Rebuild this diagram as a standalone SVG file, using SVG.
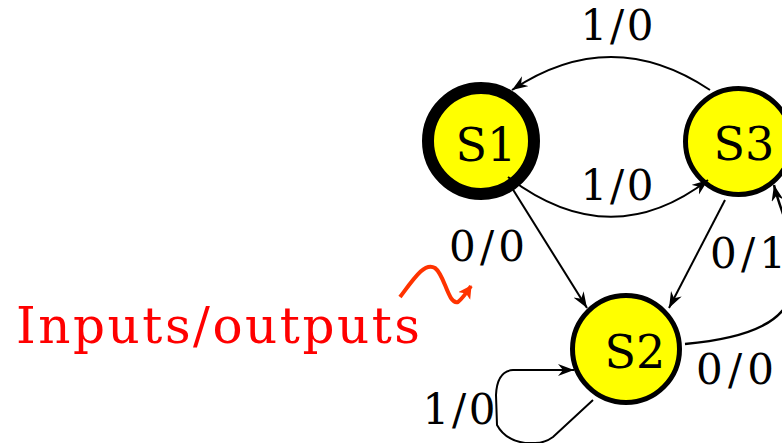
<svg xmlns="http://www.w3.org/2000/svg" width="782" height="443" viewBox="0 0 782 443">
<defs>
<style>
.node circle{fill:#ffff00;stroke:#000;stroke-width:5}
.nlabel{font-family:"DejaVu Serif",serif;font-size:46px;fill:#000;text-anchor:middle}
.elabel{font-family:"DejaVu Serif",serif;font-size:42px;fill:#000;text-anchor:middle}
.edge{fill:none;stroke:#000;stroke-width:2;marker-end:url(#arr)}
.note{font-family:"DejaVu Serif",serif;font-size:50px;fill:#ff0000;text-anchor:middle}
</style>
<marker id="arr" markerUnits="userSpaceOnUse" markerWidth="18" markerHeight="14" refX="16" refY="6" orient="auto" viewBox="0 0 18 14">
<path d="M0,0 L16,6 L0,12 L5,6 z" fill="#000"/>
</marker>
<marker id="redarr" markerUnits="userSpaceOnUse" markerWidth="16" markerHeight="16" refX="12" refY="7" orient="auto" viewBox="0 0 16 16">
<path d="M0,0 L13,7 L0,14 L3,7 z" fill="#ff3300"/>
</marker>
</defs>
<g id="S1" class="node"><circle cx="481" cy="141" r="53" style="stroke-width:12"/><text class="nlabel" x="486" y="161">S1</text></g>
<g id="S3" class="node"><circle cx="738.5" cy="141.5" r="53"/><text class="nlabel" x="744" y="160">S3</text></g>
<g id="S2" class="node"><circle cx="626" cy="349" r="53.5"/><text class="nlabel" x="635" y="368">S2</text></g>
<g id="connectors">
<path class="edge" d="M710,90 Q611,24 512,90"/>
<path class="edge" d="M508,177 Q610,255 708,180"/>
<path class="edge" d="M512,188 L587,308"/>
<path class="edge" d="M725,200 L669,308"/>
<path class="edge" d="M685,344 C750,338 790,322 795,282 C799,245 780,212 774,185" style="stroke-width:2.5"/>
<path class="edge" d="M593,400 L553,437 Q545,443 535,443 L525,443 Q505,440 497,425 L496,395 Q497,371 513,370 L574,370"/>
</g>
<g id="labels">
<text class="elabel" x="617" y="40" textLength="73" lengthAdjust="spacing">1/0</text>
<text class="elabel" x="617" y="200" textLength="73" lengthAdjust="spacing">1/0</text>
<text class="elabel" x="487" y="261" textLength="76" lengthAdjust="spacing">0/0</text>
<text class="elabel" x="748" y="268" textLength="76" lengthAdjust="spacing">0/1</text>
<text class="elabel" x="735" y="384" textLength="78" lengthAdjust="spacing">0/0</text>
<text class="elabel" x="459" y="424" textLength="73" lengthAdjust="spacing">1/0</text>
</g>
<g id="annotation">
<text class="note" x="218" y="343" textLength="404" lengthAdjust="spacing">Inputs/outputs</text>
<path d="M400,297 C415,277 425,262 435,268 C445,275 448,305 458,302 Q463,298 471,286" fill="none" stroke="#ff3300" stroke-width="4" marker-end="url(#redarr)"/>
</g>
</svg>
